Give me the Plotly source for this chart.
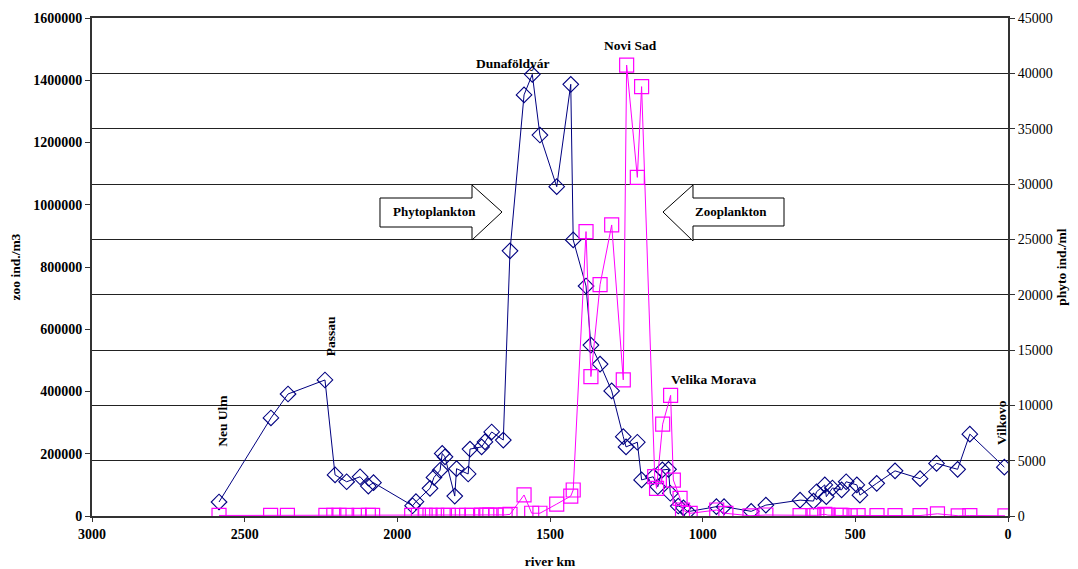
import plotly.graph_objects as go

# Zooplankton (left axis, ind./m3)
zoo_km = [2584, 2414, 2358, 2237, 2204, 2166, 2122, 2095, 2078,
          1950, 1939, 1893, 1880, 1860, 1853, 1844, 1812, 1806, 1768, 1762,
          1724, 1713, 1691, 1653, 1631, 1585, 1558, 1533, 1478, 1432, 1424,
          1382, 1366, 1336, 1298, 1260, 1251, 1214, 1200, 1162, 1147, 1132,
          1112, 1106, 1080, 1063, 1048, 955, 930, 841, 793, 681, 637, 627,
          600, 595, 575, 545, 530, 495, 485, 430, 370, 288, 234, 165, 125, 12]
zoo_val = [45000, 315000, 392000, 437000, 132000, 110000, 126000, 96000, 107000,
           33000, 46000, 89000, 124000, 147000, 201000, 190000, 64000, 152000, 135000, 215000,
           222000, 238000, 270000, 244000, 852000, 1353000, 1419000, 1224000, 1058000, 1387000, 887000,
           739000, 549000, 488000, 402000, 255000, 222000, 237000, 116000, 126000, 94000, 148000,
           150000, 73000, 32000, 26000, 14000, 30000, 30000, 15000, 35000, 51000, 48000, 78000,
           100000, 62000, 90000, 84000, 110000, 100000, 67000, 105000, 145000, 120000, 169000, 150000, 263000, 157000]

# Phytoplankton (right axis, ind./ml)
phyto_km = [2584, 2415, 2360, 2234, 2208, 2191, 2166, 2125, 2095, 2081,
            1953, 1931, 1909, 1893, 1871, 1850, 1833, 1800, 1773, 1756,
            1724, 1707, 1697, 1677, 1647, 1631, 1585, 1560, 1533, 1478, 1432, 1424,
            1382, 1366, 1336, 1298, 1260, 1249, 1214, 1200, 1157, 1151, 1131, 1105,
            1096, 1074, 1066, 1041, 954, 924, 845, 793, 681, 639, 626, 600, 590,
            550, 544, 517, 491, 429, 370, 288, 231, 163, 125, 10]
phyto_val = [50, 50, 50, 50, 50, 50, 50, 50, 50, 50,
             50, 50, 50, 50, 50, 50, 50, 50, 50, 50,
             80, 80, 80, 80, 100, 150, 1900, 250, 250, 1080, 1800, 2350,
             25700, 12600, 20900, 26300, 12300, 40750, 30600, 38800, 3550, 2500, 8300, 10900,
             3250, 1600, 540, 240, 540, 240, 20, 90, 30, 30, 60, 150, 80,
             50, 50, 40, 40, 40, 40, 40, 200, 20, 40, 20]

x_ticks = [3000, 2500, 2000, 1500, 1000, 500, 0]
zoo_ticks = [0, 200000, 400000, 600000, 800000, 1000000, 1200000, 1400000, 1600000]
phyto_ticks = [0, 5000, 10000, 15000, 20000, 25000, 30000, 35000, 40000, 45000]

FONT = "Liberation Serif"

fig = go.Figure()
fig.add_trace(go.Scatter(
    x=phyto_km, y=phyto_val, yaxis="y2", mode="lines+markers",
    line=dict(color="#FF00FF", width=1),
    marker=dict(symbol="square-open", size=14, color="#FF00FF", line=dict(width=1.2)),
    name="phyto"))
fig.add_trace(go.Scatter(
    x=zoo_km, y=zoo_val, mode="lines+markers",
    line=dict(color="#000080", width=1),
    marker=dict(symbol="diamond-open", size=12, color="#000080", line=dict(width=1.1)),
    name="zoo"))

# page body has an 8px margin; figure is sized to fit the window
OFF = 8
W, H = 1078 - OFF, 569 - OFF
# plot area in window pixels
L, R, T, B = 92, 1008, 18, 516
def px(x):
    return (x - L) / (R - L)
def py(y):
    return (B - y) / (B - T)

def path(points):
    s = "M " + " L ".join(f"{px(a):.5f},{py(b):.5f}" for a, b in points) + " Z"
    return s

phyto_arrow = [(380, 198), (472, 198), (472, 185), (502, 212), (472, 240), (472, 227), (380, 227)]
zoo_arrow = [(663, 212), (693, 185), (693, 198), (784, 198), (784, 226), (693, 226), (693, 241)]
shapes = []
for pts in (phyto_arrow, zoo_arrow):
    shapes.append(dict(type="path", xref="paper", yref="paper", path=path(pts),
                       fillcolor="white", line=dict(color="black", width=1), layer="above"))

annotations = [
    dict(x=px(434), y=py(212), text="<b>Phytoplankton</b>"),
    dict(x=px(731), y=py(212), text="<b>Zooplankton</b>"),
]
for a in annotations:
    a.update(xref="paper", yref="paper", showarrow=False, xanchor="center", yanchor="middle",
             font=dict(family=FONT, size=13, color="black"))

labels = [
    (2575, 305000, "Neu Ulm", -90),
    (2220, 578000, "Passau", -90),
    (1622, 1455000, "Dunaföldyár", 0),
    (1238, 1513000, "Novi Sad", 0),
    (963, 437000, "Velika Morava", 0),
    (23, 302000, "Vilkovo", -90),
]
for xk, yv, t, ang in labels:
    annotations.append(dict(x=xk, y=yv, xref="x", yref="y", text=f"<b>{t}</b>",
                            showarrow=False, textangle=ang, xanchor="center", yanchor="middle",
                            font=dict(family=FONT, size=13.5, color="black")))

fig.update_layout(
    width=W, height=H,
    margin=dict(l=L - OFF, r=W - (R - OFF), t=T - OFF, b=H - (B - OFF), autoexpand=False),
    paper_bgcolor="white", plot_bgcolor="white",
    showlegend=False,
    font=dict(family=FONT, color="black"),
    shapes=shapes, annotations=annotations,
    xaxis=dict(range=[3000, 0], tickvals=x_ticks, ticktext=[f"<b>{v}</b>" for v in x_ticks],
               automargin=False,
               showgrid=False, zeroline=False, showline=True, linecolor="#333333", linewidth=2,
               mirror=True, ticks="outside", ticklen=4, tickcolor="#333333",
               tickfont=dict(family=FONT, size=14, color="black"),
               title=dict(text="<b>river km</b>", font=dict(family=FONT, size=13.5), standoff=17)),
    yaxis=dict(range=[0, 1600000], tickvals=zoo_ticks, ticktext=[f"<b>{v}</b>" for v in zoo_ticks],
               automargin=False,
               showgrid=False, zeroline=False, showline=True, linecolor="#333333", linewidth=2,
               ticks="outside", ticklen=5, tickcolor="#333333",
               tickfont=dict(family=FONT, size=14, color="black"),
               title=dict(text="<b>zoo ind./m3</b>", font=dict(family=FONT, size=13.5), standoff=14)),
    yaxis2=dict(range=[0, 45000], tickvals=phyto_ticks, ticktext=[str(v) for v in phyto_ticks],
                overlaying="y", side="right", automargin=False,
                showgrid=True, gridcolor="#222222", gridwidth=1, zeroline=False,
                showline=True, linecolor="#333333", linewidth=2,
                ticks="outside", ticklen=5, tickcolor="#333333",
                tickfont=dict(family=FONT, size=14, color="black"),
                title=dict(text="<b>phyto ind./ml</b>", font=dict(family=FONT, size=13.5), standoff=5)),
)

fig.write_html("out.html")
